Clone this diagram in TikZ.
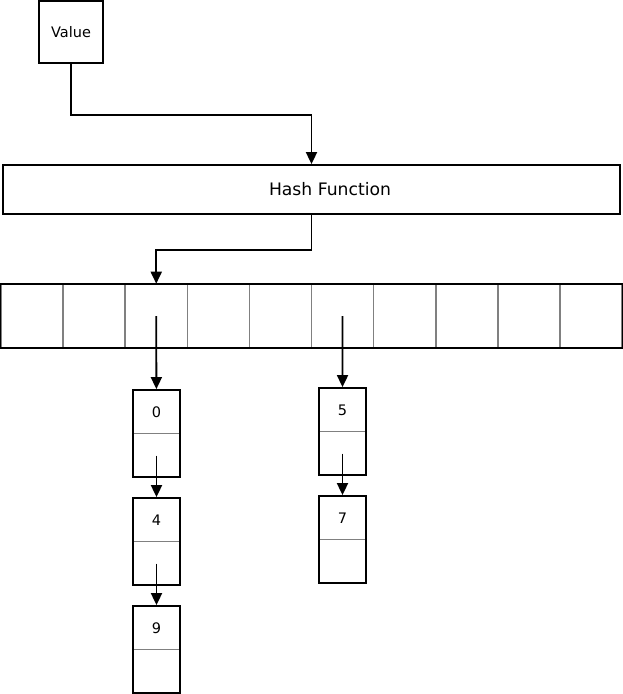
\documentclass[tikz,border=0pt]{standalone}
\usepackage{fontspec}
\setmainfont{DejaVu Sans}
\usepackage{tikz}
\usetikzlibrary{arrows.meta,positioning,calc,fit}

\begin{document}
\begin{tikzpicture}[
    x=1pt, y=-1pt,
    box/.style={
        rectangle, draw=black, line width=1.8pt, inner sep=0pt,
        font=\fontsize{14.5}{17}\selectfont
    },
    cell/.style={
        rectangle, draw=black!50, line width=1.6pt, inner sep=0pt,
        minimum width=62.1pt, minimum height=63pt
    },
    listnode/.style={
        box, minimum width=47pt, minimum height=87pt,
        path picture={\draw[black!50, line width=1.6pt]
            (path picture bounding box.west) -- (path picture bounding box.east);}
    },
    arrow/.style={-{Triangle[length=12pt,width=11pt]}, line width=1.8pt, color=black},
]

\useasboundingbox (0,0) rectangle (623,694);

% Eingang
\node[box, minimum width=64pt, minimum height=62pt] (value) at (71,32) {Value};

\node[box, minimum width=617pt, minimum height=49pt,
      label={[xshift=18.5pt, font=\fontsize{17.2}{20}\selectfont]center:Hash Function}]
      (hash) at (311.5,189.5) {};

% Tabelle
\foreach \i in {0,...,9}
    \node[cell] (c\i) at ({1+62.1*(\i+0.5)},316) {};
\node[box, fit=(c0)(c9)] (table) {};

% Listen
\node[listnode, label={[yshift=21.5pt, font=\fontsize{14.5}{17}\selectfont]center:0}] (n0) at (156.5,433.5) {};
\node[listnode, label={[yshift=21.5pt, font=\fontsize{14.5}{17}\selectfont]center:4}] (n4) at (156.5,541.5) {};
\node[listnode, label={[yshift=21.5pt, font=\fontsize{14.5}{17}\selectfont]center:9}] (n9) at (156.5,649.5) {};

\node[listnode, label={[yshift=21.5pt, font=\fontsize{14.5}{17}\selectfont]center:5}] (n5) at (342.5,431.5) {};
\node[listnode, label={[yshift=21.5pt, font=\fontsize{14.5}{17}\selectfont]center:7}] (n7) at (342.5,539.5) {};

% Verbindungen
\draw[arrow] (value.south) -- ++(0,51) -| (hash.north);
\draw[arrow] (hash.south) -- ++(0,35) -| (c2.north);

\draw[arrow] (c2.center) -- (n0);
\draw[arrow] (c5.center) -- (n5);

\draw[arrow] ($(n0)!0.5!(n0.south)$) -- (n4);
\draw[arrow] ($(n4)!0.5!(n4.south)$) -- (n9);
\draw[arrow] ($(n5)!0.5!(n5.south)$) -- (n7);

\end{tikzpicture}
\end{document}
